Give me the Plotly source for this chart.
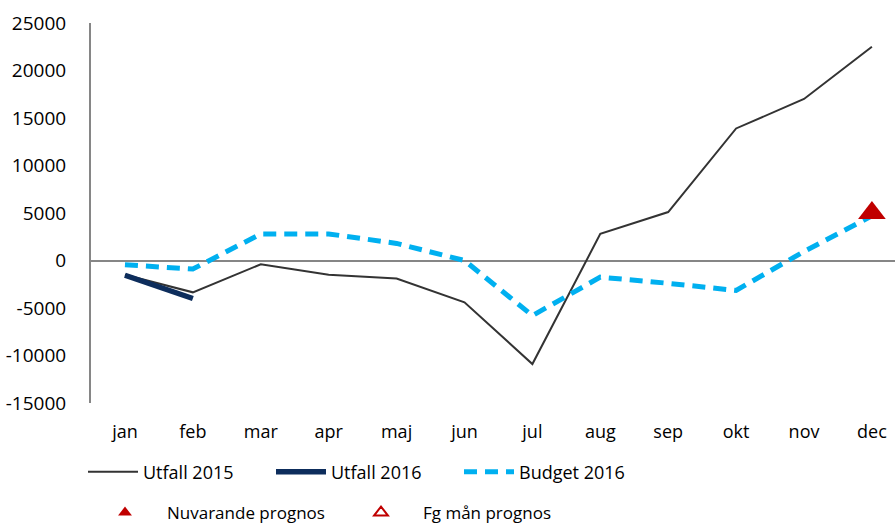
import plotly.graph_objects as go

months = ["jan", "feb", "mar", "apr", "maj", "jun", "jul", "aug", "sep", "okt", "nov", "dec"]
utfall_2015 = [-1500, -3350, -400, -1500, -1900, -4400, -10900, 2800, 5100, 13900, 17000, 22500]
utfall_2016 = [-1550, -4000]
budget_2016 = [-450, -900, 2800, 2800, 1800, 0, -5800, -1750, -2400, -3150, 950, 4700]
nuvarande_prognos_month = ["dec"]
nuvarande_prognos = [5000]
fg_man_prognos_month = ["dec"]
fg_man_prognos = [None]
y_ticks = [25000, 20000, 15000, 10000, 5000, 0, -5000, -10000, -15000]

FONT = "Open Sans"

fig = go.Figure()
fig.add_trace(go.Scatter(x=months, y=utfall_2015, mode="lines", name="Utfall 2015",
                         line=dict(color="#333333", width=2), legend="legend"))
fig.add_trace(go.Scatter(x=months[:len(utfall_2016)], y=utfall_2016, mode="lines", name="Utfall 2016",
                         line=dict(color="#0D2D5C", width=5.5), legend="legend"))
fig.add_trace(go.Scatter(x=months, y=budget_2016, mode="lines", name="Budget 2016",
                         line=dict(color="#00B0F0", width=5, dash="13px,8px"), legend="legend"))
fig.add_trace(go.Scatter(x=nuvarande_prognos_month, y=nuvarande_prognos, mode="markers",
                         name="Nuvarande prognos", cliponaxis=False,
                         marker=dict(symbol="triangle-up", size=24, color="#C00000"), legend="legend2"))
fig.add_trace(go.Scatter(x=fg_man_prognos_month, y=fg_man_prognos, mode="markers",
                         name="Fg mån prognos", showlegend=True,
                         marker=dict(symbol="triangle-up-open", size=12, color="#C00000",
                                     line=dict(width=2.5, color="#C00000")), legend="legend2"))

fig.update_layout(
    width=895, height=526,
    margin=dict(l=91, r=0, t=23, b=123, autoexpand=False),
    paper_bgcolor="white", plot_bgcolor="white",
    font=dict(family=FONT, size=19, color="#000000"),
    showlegend=True,
    xaxis=dict(
        type="category", categoryorder="array", categoryarray=months, automargin=False,
        range=[-0.5, 11.34], showgrid=False, zeroline=False, showline=False,
        ticks="", ticklabelstandoff=16, tickfont=dict(family=FONT, size=18),
    ),
    yaxis=dict(
        range=[-15000, 25000], tickvals=y_ticks, ticktext=[str(v) for v in y_ticks],
        showgrid=False, zeroline=True, zerolinecolor="#868686", zerolinewidth=2, automargin=False,
        showline=True, linecolor="#868686", linewidth=2, ticks="",
        ticklabelstandoff=19, tickfont=dict(family=FONT, size=19),
    ),
    legend=dict(
        orientation="h", x=83 / 895, xref="container", xanchor="left",
        y=1 - 472 / 526, yref="container",
        yanchor="middle", itemwidth=50, entrywidth=123, entrywidthmode="pixels",
        font=dict(family=FONT, size=18), bgcolor="rgba(0,0,0,0)", tracegroupgap=0,
    ),
    legend2=dict(
        orientation="h", x=83 / 895, xref="container", xanchor="left",
        y=1 - 513 / 526, yref="container",
        yanchor="middle", itemwidth=74, entrywidth=167, entrywidthmode="pixels",
        font=dict(family=FONT, size=17), bgcolor="rgba(0,0,0,0)", itemsizing="constant",
    ),
)

fig.write_html("out.html", config={"displayModeBar": False},
               post_script="document.body.style.margin='0';document.body.style.overflow='hidden';")
